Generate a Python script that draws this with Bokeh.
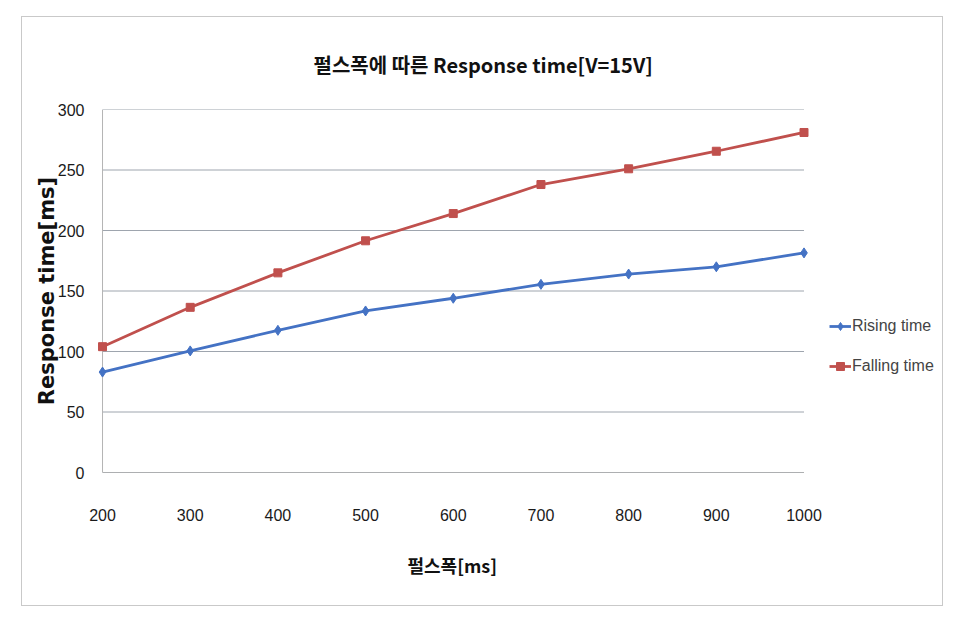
from bokeh.plotting import figure
from bokeh.models import Range1d, Legend, LegendItem, FixedTicker, Title
from bokeh.embed import file_html
from bokeh.resources import INLINE

pulse_width = [200, 300, 400, 500, 600, 700, 800, 900, 1000]
rising_time = [83, 100.5, 117.5, 133.5, 144, 155.5, 164, 170, 181.5]
falling_time = [104, 136.5, 165, 191.5, 214, 238, 251, 265.5, 281]
y_ticks = [0, 50, 100, 150, 200, 250, 300]

title_text = "펄스폭에 따른 Response time[V=15V]"
x_label = "펄스폭[ms]"
y_label = "Response time[ms]"

KFONT = "Noto Sans CJK KR"
NFONT = "Liberation Sans"

# plotting area: 699 px for the 200..1000 span; frame extended so legend/markers are not clipped
px_per_unit = 699 / (pulse_width[-1] - pulse_width[0])
x_start = pulse_width[0] - 6 / px_per_unit
x_end = pulse_width[-1] + 139 / px_per_unit

p = figure(width=922, height=590, output_backend="svg", toolbar_location=None,
           x_range=Range1d(x_start, x_end), y_range=Range1d(y_ticks[0], y_ticks[-1]),
           min_border_left=74, min_border_right=1, min_border_top=92, min_border_bottom=135,
           margin=(16, 0, 0, 21),
           styles={"border": "1px solid #c9c9c9"})
p.outline_line_color = None
p.background_fill_color = "white"
p.border_fill_color = "white"

p.title.text = title_text
p.title.align = "left"
p.title.offset = 217
p.title.standoff = 61
p.title.text_font = KFONT
p.title.text_font_style = "bold"
p.title.text_font_size = "20px"
p.title.text_color = "#111111"

# grid drawn only across the data span
p.xgrid.grid_line_color = None
p.ygrid.grid_line_color = None
n = len(y_ticks)
p.segment(x0=[pulse_width[0]] * n, x1=[pulse_width[-1]] * n, y0=y_ticks, y1=y_ticks,
          line_color="#9ea5ae", line_width=1)
# axis lines
p.segment(x0=[pulse_width[0]], x1=[pulse_width[0]], y0=[y_ticks[0]], y1=[y_ticks[-1]],
          line_color="#b4b4b4", line_width=1)
p.segment(x0=[pulse_width[0]], x1=[pulse_width[-1]], y0=[y_ticks[0]], y1=[y_ticks[0]],
          line_color="#8c8c8c", line_width=1.2)

p.yaxis.ticker = FixedTicker(ticks=y_ticks)
p.xaxis.ticker = FixedTicker(ticks=pulse_width)

for ax in (p.xaxis[0], p.yaxis[0]):
    ax.axis_line_color = None
    ax.major_tick_line_color = None
    ax.minor_tick_line_color = None
    ax.major_label_text_font = NFONT
    ax.major_label_text_font_size = "16px"
    ax.major_label_text_color = "#1a1a1a"
    ax.axis_label_text_color = "#111111"

p.xaxis.major_label_standoff = 30
p.yaxis.major_label_standoff = 6

p.yaxis.axis_label = y_label
p.yaxis.axis_label_text_font = "DejaVu Sans"
p.yaxis.axis_label_text_font_style = "bold"
p.yaxis.axis_label_text_font_size = "21px"
p.yaxis.axis_label_standoff = -4

xt = Title(text=x_label, align="left", offset=311, standoff=53,
           text_font=KFONT, text_font_style="bold", text_font_size="18px", text_color="#111111")
p.add_layout(xt, "below")

blue = "#4472C4"
red = "#C0504D"

r1 = p.line(pulse_width, rising_time, line_color=blue, line_width=2.8)
m1 = p.scatter(pulse_width, rising_time, marker="diamond", size=10, fill_color=blue, line_color=blue)
r2 = p.line(pulse_width, falling_time, line_color=red, line_width=2.8)
m2 = p.scatter(pulse_width, falling_time, marker="square", size=8, fill_color=red, line_color=red)

legend = Legend(items=[LegendItem(label="Rising time", renderers=[r1, m1]),
                       LegendItem(label="Falling time", renderers=[r2, m2])],
                location=(733, 96), background_fill_alpha=0, border_line_color=None,
                label_text_font=NFONT, label_text_font_size="16px",
                glyph_width=22, label_standoff=1, spacing=20, padding=0, margin=0)
p.add_layout(legend)

open("out.html", "w").write(file_html(p, INLINE))
